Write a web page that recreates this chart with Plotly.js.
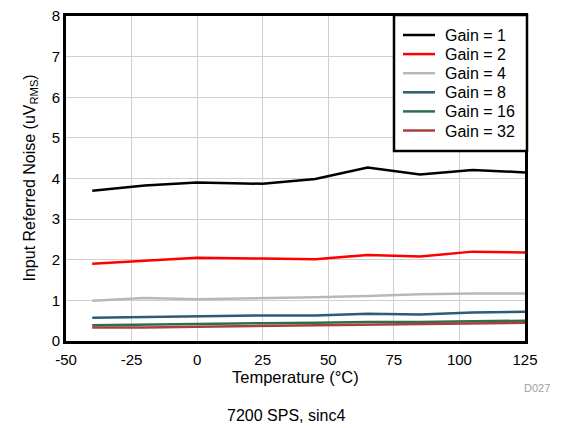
<!DOCTYPE html>
<html><head><meta charset="utf-8">
<script src="https://cdn.plot.ly/plotly-3.0.1.min.js"></script>
<style>body{margin:0;background:#fff}#c{width:565px;height:428px}</style>
</head><body><div id="c"></div>
<script>
const temps = [-40, -20, 0, 25, 45, 65, 85, 105, 125];
const seriesNames = ["Gain = 1", "Gain = 2", "Gain = 4", "Gain = 8", "Gain = 16", "Gain = 32"];
const gain1  = [3.70, 3.83, 3.90, 3.87, 3.99, 4.27, 4.10, 4.21, 4.15];
const gain2  = [1.90, 1.97, 2.05, 2.03, 2.01, 2.12, 2.08, 2.20, 2.18];
const gain4  = [0.99, 1.06, 1.03, 1.05, 1.08, 1.11, 1.15, 1.17, 1.17];
const gain8  = [0.57, 0.59, 0.61, 0.63, 0.63, 0.67, 0.65, 0.70, 0.72];
const gain16 = [0.39, 0.41, 0.43, 0.44, 0.45, 0.47, 0.47, 0.49, 0.50];
const gain32 = [0.33, 0.33, 0.35, 0.37, 0.38, 0.40, 0.41, 0.42, 0.45];
const colors = ["#000000", "#ff0000", "#b8b8b8", "#2a5d78", "#2f6e4a", "#a8403f"];
const xTicks = [-50, -25, 0, 25, 50, 75, 100, 125];
const yTicks = [0, 1, 2, 3, 4, 5, 6, 7, 8];

const FAM = "Liberation Sans, Arial, Helvetica, sans-serif";
const all = [gain1, gain2, gain4, gain8, gain16, gain32];
const traces = all.map((ys, i) => ({
  x: temps, y: ys, name: seriesNames[i], type: "scatter", mode: "lines",
  line: {color: colors[i], width: 2.5}
}));

// plot-area geometry in pixels (for converting legend placement to paper coords)
const L = 66, T = 16, W = 459, H = 325;
const px = v => (v - L) / W;
const py = v => (T + H - v) / H;

const shapes = [{type: "rect", xref: "paper", yref: "paper", layer: "above",
  x0: px(394), x1: px(527), y0: py(151), y1: py(15),
  line: {color: "#000", width: 2.5}, fillcolor: "#fff"}];
const annotations = [];
seriesNames.forEach((n, i) => {
  const yc = 35 + i * 19.1;
  shapes.push({type: "line", xref: "paper", yref: "paper", layer: "above",
    x0: px(403), x1: px(435), y0: py(yc), y1: py(yc), line: {color: colors[i], width: 2.5}});
  annotations.push({text: n, xref: "paper", yref: "paper", x: px(443), y: py(yc + 0.5),
    xanchor: "left", yanchor: "middle", showarrow: false,
    font: {family: FAM, size: 16, color: "#000"}});
});
annotations.push(
  {text: "Temperature (°C)", xref: "paper", yref: "paper", x: 0.5, y: py(377.5),
    xanchor: "center", yanchor: "middle", showarrow: false, font: {family: FAM, size: 16.5, color: "#000"}},
  {text: "Input Referred Noise (uV<sub>RMS</sub>)", xref: "paper", yref: "paper", x: px(30), y: 0.5,
    xanchor: "center", yanchor: "middle", textangle: -90, showarrow: false,
    font: {family: FAM, size: 16, color: "#000"}},
  {text: "D027", xref: "paper", yref: "paper", x: px(552), y: py(388), xanchor: "right", yanchor: "middle",
    showarrow: false, font: {family: FAM, size: 11, color: "#a0a0a0"}},
  {text: "7200 SPS, sinc4", xref: "paper", yref: "paper", x: px(286), y: py(415), xanchor: "center", yanchor: "middle",
    showarrow: false, font: {family: FAM, size: 16, color: "#000"}}
);

const layout = {
  width: 565, height: 428,
  margin: {l: L, r: 565 - L - W, t: T, b: 428 - T - H},
  paper_bgcolor: "#fff", plot_bgcolor: "#fff",
  font: {family: FAM, size: 15, color: "#000"},
  showlegend: false,
  xaxis: {range: [-50, 125], tickvals: xTicks, ticktext: xTicks.map(String),
    showgrid: true, gridcolor: "#d0d0d0", gridwidth: 1, zeroline: false,
    showline: true, linecolor: "#000", linewidth: 3, mirror: true, ticks: "",
    ticklabelstandoff: 3, tickfont: {size: 15}},
  yaxis: {range: [0, 8], tickvals: yTicks, ticktext: yTicks.map(String),
    showgrid: true, gridcolor: "#d0d0d0", gridwidth: 1, zeroline: false,
    showline: true, linecolor: "#000", linewidth: 3, mirror: true, ticks: "",
    tickfont: {size: 15}},
  shapes: shapes,
  annotations: annotations
};
Plotly.newPlot("c", traces, layout, {displayModeBar: false, staticPlot: true});
</script></body></html>
